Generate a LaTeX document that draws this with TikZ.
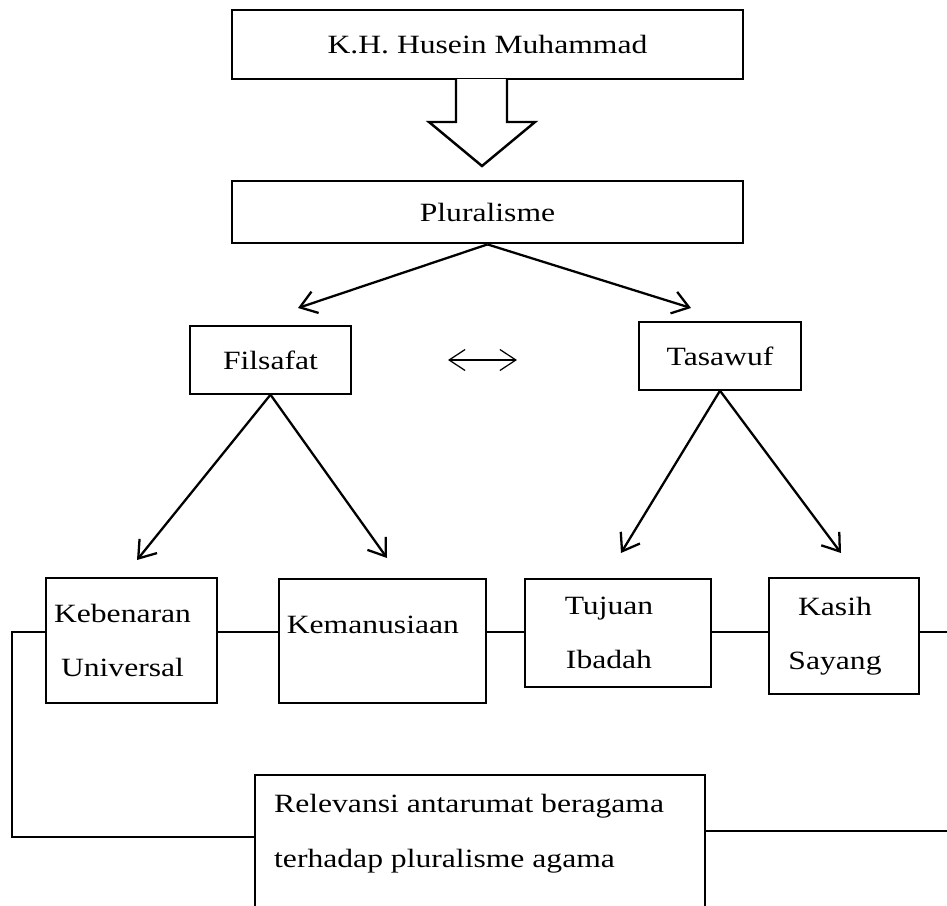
\documentclass[tikz,border=0pt]{standalone}
\usepackage{fontspec}
\setmainfont{Liberation Serif}[FakeStretch=1.2]
\usetikzlibrary{arrows.meta}

\begin{document}
\begin{tikzpicture}[x=0.02cm, y=-0.02cm, >={Straight Barb[length=0.32cm,width=0.45cm]},
		font=\fontsize{15}{31}\selectfont,
		kotak/.style={draw, line width=1.6pt, inner sep=0pt, align=center},
		kotaktipis/.style={draw, line width=0.8pt, inner sep=0pt, align=center},
		isi/.style={label={[align=center, xshift=-0.18cm]center:#1}},
		panah/.style={->, line width=1.3pt},
		garis/.style={line width=0.75pt}]
	\useasboundingbox (0,0) rectangle (947,906);
	\clip (0,0) rectangle (947,906);
	% tokoh dan pluralisme
	\node[kotak, minimum width=10.22cm, minimum height=1.38cm] (kh) at (487.5,44.5) {K.H. Husein Muhammad};
	\node[kotak, minimum width=10.22cm, minimum height=1.24cm] (pluralisme) at (487.5,212) {Pluralisme};
	\draw[line width=1.4pt, fill=white] (456,79) -- (456,122) -- (429,122) -- (482,166) -- (535,122) -- (507,122) -- (507,79);
	% filsafat dan tasawuf
	\node[kotaktipis, minimum width=3.22cm, minimum height=1.36cm] (filsafat) at (270.5,360) {Filsafat};
	\node[kotaktipis, minimum width=3.24cm, minimum height=1.36cm] (tasawuf) at (720,356) {Tasawuf};
	\path
	(298,308) coordinate (fTip)
	(691,308) coordinate (tTip)
	(448,360) coordinate (dKiri)
	(517,360) coordinate (dKanan)
	(137,560) coordinate (kbTip)
	(387,558) coordinate (kmTip)
	(621,553) coordinate (tjTip)
	(841,553) coordinate (ksTip)
	(0,632) coordinate (baris)
	(12,837) coordinate (loopL)
	(947,632) coordinate (tepiA)
	(947,831) coordinate (tepiB)
	;
	\draw[panah] (pluralisme.south) -- (fTip);
	\draw[panah] (pluralisme.south) -- (tTip);
	\draw[<->, line width=0.7pt, >={Straight Barb[length=0.32cm,width=0.42cm]}] (dKiri) -- (dKanan);
	% nilai-nilai
	\node[kotak, minimum width=3.42cm, minimum height=2.5cm, isi={Kebenaran\\Universal}] (kebenaran) at (131.5,640.5) {};
	\node[kotak, minimum width=4.14cm, minimum height=2.48cm,
		label={[anchor=west, xshift=0.06cm, yshift=0.32cm]west:Kemanusiaan}] (kemanusiaan) at (382.5,641) {};
	\node[kotak, minimum width=3.72cm, minimum height=2.16cm, isi={Tujuan\\Ibadah}] (tujuan) at (618,633) {};
	\node[kotak, minimum width=3.0cm, minimum height=2.32cm, isi={Kasih\\Sayang}] (kasih) at (844,636) {};
	\draw[panah] (filsafat.south) -- (kbTip);
	\draw[panah] (filsafat.south) -- (kmTip);
	\draw[panah] (tasawuf.south) -- (tjTip);
	\draw[panah] (tasawuf.south) -- (ksTip);
	\draw[garis] (kebenaran.east |- baris) -- (kemanusiaan.west |- baris);
	\draw[garis] (kemanusiaan.east |- baris) -- (tujuan.west |- baris);
	\draw[garis] (tujuan.east |- baris) -- (kasih.west |- baris);
	\draw[garis] (kasih.east |- baris) -- (tepiA);
	% relevansi
	\node[draw, line width=1.2pt, minimum width=9cm, minimum height=3.5cm,
		label={[anchor=west, align=left, xshift=0.28cm, yshift=0.58cm]west:Relevansi antarumat beragama\\terhadap pluralisme agama}] (relevansi) at (480,862.5) {};
	\draw[garis] (kebenaran.west |- baris) -| (loopL) -- (loopL -| relevansi.west);
	\draw[garis] (relevansi.east |- tepiB) -- (tepiB);
\end{tikzpicture}
\end{document}
